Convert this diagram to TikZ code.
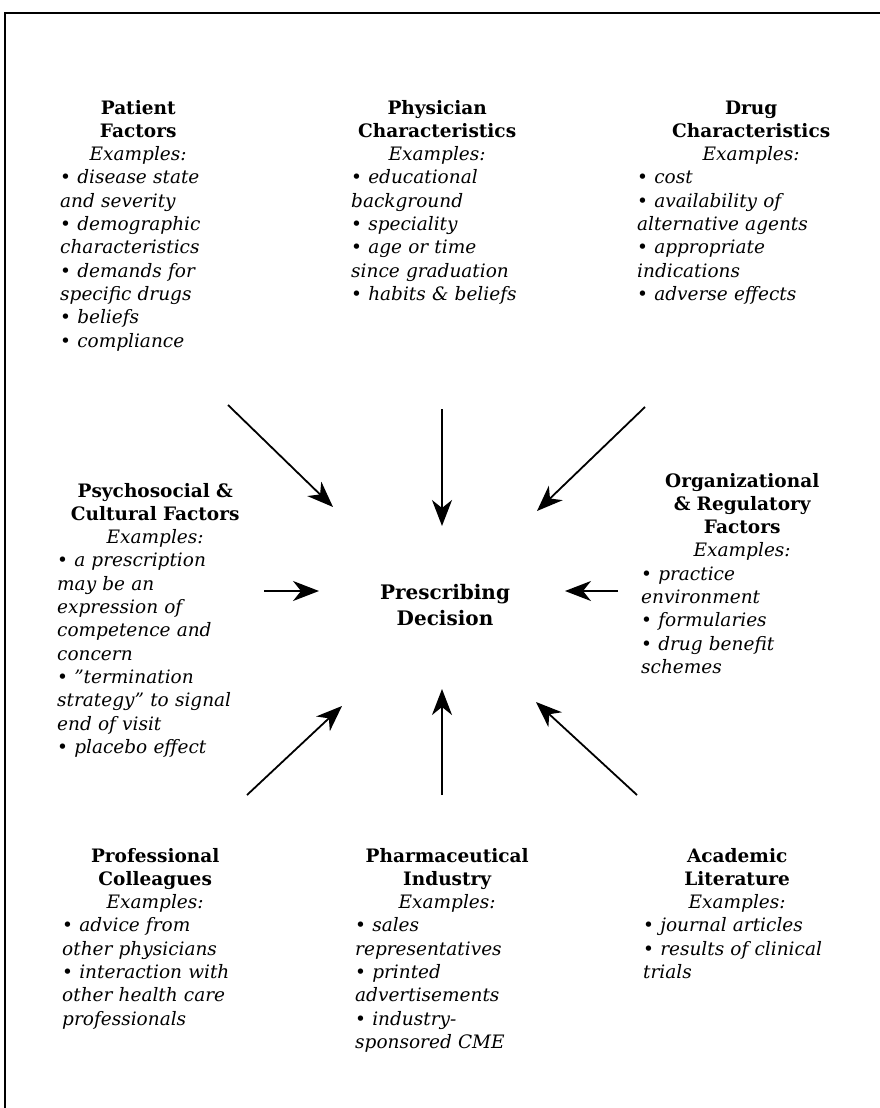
\documentclass[tikz,border=0pt]{standalone}
\usepackage{fontspec}
\setmainfont{DejaVu Serif}
\usetikzlibrary{arrows.meta}
\tikzset{
    % Define style for the factor blocks
    factor/.style={
           anchor=base west,
           inner sep=0pt,
           align=left,
           font=\fontsize{18.5}{23.3}\selectfont\itshape},
    % Define style for the centre
    centre/.style={
           inner sep=0pt,
           align=center,
           font=\fontsize{20}{26}\selectfont\bfseries},
    % Define arrow style
    pil/.style={
           -{Stealth[length=26pt,width=20pt,inset=8pt]},
           line width=1.8pt}
}
% heading of a block: bold title lines, then "Examples:"
\newcommand{\fhead}[1]{{\centering\upshape\bfseries #1\par\mdseries\itshape Examples:\par}}

\begin{document}
\begin{tikzpicture}[x=1pt,y=-1pt]
\useasboundingbox (0,0) rectangle (880,1108);
% the frame (only top and left edges show)
\draw[line width=2pt] (5,1108) -- (5,13) -- (880,13);

% Top row
\node[factor, text width=156pt] (patient) at (60,114) {\fhead{Patient\par Factors}
• disease state\\and severity\\• demographic\\characteristics\\• demands for\\specific drugs\\• beliefs\\• compliance};
\node[factor, text width=172pt] (physician) at (351,114) {\fhead{Physician\par Characteristics}
• educational\\background\\• speciality\\• age or time\\since graduation\\• habits \& beliefs};
\node[factor, text width=228pt] (drug) at (637,114) {\fhead{Drug\par Characteristics}
• cost\\• availability of\\alternative agents\\• appropriate\\indications\\• adverse effects};

% Middle row
\node[factor, text width=196pt] (psycho) at (57,497) {\fhead{Psychosocial \&\par Cultural Factors}
• a prescription\\may be an\\expression of\\competence and\\concern\\• \symbol{34}termination\\strategy\symbol{34} to signal\\end of visit\\• placebo effect};
\node[centre] (decision) at (445,605) {Prescribing\\Decision};
\node[factor, text width=202pt] (organ) at (641,487) {\fhead{Organizational\par \& Regulatory\par Factors}
• practice\\environment\\• formularies\\• drug benefit\\schemes};

% Bottom row
\node[factor, text width=186pt] (colleagues) at (62,862) {\fhead{Professional\par Colleagues}
• advice from\\other physicians\\• interaction with\\other health care\\professionals};
\node[factor, text width=184pt] (industry) at (355,862) {\fhead{Pharmaceutical\par Industry}
• sales\\representatives\\• printed\\advertisements\\• industry-\\sponsored CME};
\node[factor, text width=188pt] (literature) at (643,862) {\fhead{Academic\par Literature}
• journal articles\\• results of clinical\\trials};

% Arrow ends
\coordinate (nwT) at (228,405); \coordinate (nwH) at (333,507);
\coordinate (nT) at (442,409);  \coordinate (nH) at (442,526);
\coordinate (neT) at (645,407); \coordinate (neH) at (537,511);
\coordinate (wT) at (264,591);  \coordinate (wH) at (319,591);
\coordinate (eT) at (618,591);  \coordinate (eH) at (565,591);
\coordinate (swT) at (247,795); \coordinate (swH) at (342,706);
\coordinate (sT) at (442,795);  \coordinate (sH) at (442,689);
\coordinate (seT) at (637,795); \coordinate (seH) at (536,702);

% Now draw the arrows towards the decision
\draw[pil] (nwT) -- (nwH);
\draw[pil] (nT) -- (nH);
\draw[pil] (neT) -- (neH);
\draw[pil] (wT) -- (wH);
\draw[pil] (eT) -- (eH);
\draw[pil] (swT) -- (swH);
\draw[pil] (sT) -- (sH);
\draw[pil] (seT) -- (seH);
\end{tikzpicture}
\end{document}
